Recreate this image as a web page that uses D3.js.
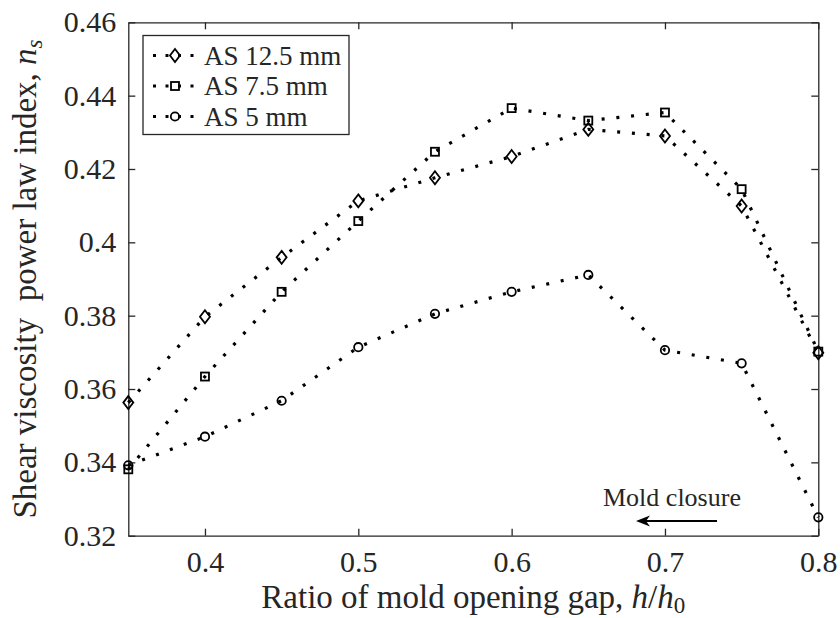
<!DOCTYPE html>
<html>
<head>
<meta charset="utf-8">
<script src="https://cdn.jsdelivr.net/npm/d3@7"></script>
<style>
  html, body { margin: 0; padding: 0; background: #fff; }
  svg { display: block; }
  text { font-family: "Liberation Serif", "Times New Roman", serif; fill: #262626; }
</style>
</head>
<body>
<svg id="chart" width="840" height="618"></svg>
<script>
// Gap ratio h/h0 at which the index was measured
const gapRatio = [0.35, 0.40, 0.45, 0.50, 0.55, 0.60, 0.65, 0.70, 0.75, 0.80];

// Shear viscosity power law index n_s for each AS setting
const as125 = [0.3563, 0.3797, 0.3959, 0.4113, 0.4176, 0.4234, 0.4308, 0.4290, 0.4099, 0.3699];
const as75  = [0.3381, 0.3634, 0.3865, 0.4058, 0.4247, 0.4366, 0.4332, 0.4354, 0.4145, 0.3702];
const as5   = [0.3392, 0.3470, 0.3568, 0.3714, 0.3805, 0.3865, 0.3911, 0.3706, 0.3670, 0.3250];

const seriesNames = ["AS 12.5 mm", "AS 7.5 mm", "AS 5 mm"];
const seriesMarkers = ["diamond", "square", "circle"];

const xTicks = [0.4, 0.5, 0.6, 0.7, 0.8];
const yTicks = [0.32, 0.34, 0.36, 0.38, 0.40, 0.42, 0.44, 0.46];

const series = [as125, as75, as5].map((vals, i) => ({
  name: seriesNames[i],
  marker: seriesMarkers[i],
  points: vals.map((v, j) => ({ x: gapRatio[j], y: v }))
}));

const serif = '"Liberation Serif", "Times New Roman", serif';
const svg = d3.select("#chart");
const margin = { left: 128.3, right: 840 - 818.3, top: 22.3, bottom: 618 - 535.7 };
const W = 840, H = 618;
const innerW = W - margin.left - margin.right;
const innerH = H - margin.top - margin.bottom;

const x = d3.scaleLinear().domain([0.35, 0.8]).range([margin.left, margin.left + innerW]);
const y = d3.scaleLinear().domain([0.32, 0.46]).range([margin.top + innerH, margin.top]);

const axisColor = "#262626";
const tickLen = 7;
const fmt = d => String(+d.toFixed(2));

// Axes with inward ticks on all four sides (boxed frame)
const gx = svg.append("g").attr("transform", `translate(0,${y(0.32)})`)
  .call(d3.axisBottom(x).tickValues(xTicks).tickFormat(fmt).tickSizeInner(-tickLen).tickSizeOuter(0).tickPadding(15));
const gxTop = svg.append("g").attr("transform", `translate(0,${y(0.46)})`)
  .call(d3.axisTop(x).tickValues(xTicks).tickFormat("").tickSizeInner(-tickLen).tickSizeOuter(0));
const gy = svg.append("g").attr("transform", `translate(${x(0.35)},0)`)
  .call(d3.axisLeft(y).tickValues(yTicks).tickFormat(fmt).tickSizeInner(-tickLen).tickSizeOuter(0).tickPadding(12));
const gyRight = svg.append("g").attr("transform", `translate(${x(0.8)},0)`)
  .call(d3.axisRight(y).tickValues(yTicks).tickFormat("").tickSizeInner(-tickLen).tickSizeOuter(0));

[gx, gxTop, gy, gyRight].forEach(g => {
  g.attr("font-family", null).style("font-family", serif);
  g.select(".domain").attr("stroke", axisColor).attr("stroke-width", 1.3);
  g.selectAll(".tick line").attr("stroke", axisColor).attr("stroke-width", 1.3);
  g.selectAll(".tick text").style("font-family", serif).style("font-size", "30px").attr("fill", axisColor);
});
gx.selectAll(".tick text").attr("dy", "0.71em");

// Marker shapes
function drawMarker(g, type, cx, cy) {
  const common = s => s.attr("fill", "none").attr("stroke", "#000").attr("stroke-width", 1.8);
  if (type === "diamond") {
    g.append("path").attr("d", `M${cx},${cy - 6.5}L${cx + 5},${cy}L${cx},${cy + 6.5}L${cx - 5},${cy}Z`).call(common);
  } else if (type === "square") {
    g.append("rect").attr("x", cx - 4).attr("y", cy - 4).attr("width", 8).attr("height", 8).call(common);
  } else {
    g.append("circle").attr("cx", cx).attr("cy", cy).attr("r", 4.2).call(common);
  }
}

const line = d3.line().x(d => x(d.x)).y(d => y(d.y));
const dash = "3 11.8";

const plot = svg.append("g");
series.forEach(s => {
  plot.append("path").datum(s.points).attr("d", line)
    .attr("fill", "none").attr("stroke", "#000").attr("stroke-width", 3.2)
    .attr("stroke-dasharray", dash).attr("stroke-linecap", "butt");
  const mg = plot.append("g");
  s.points.forEach(p => drawMarker(mg, s.marker, x(p.x), y(p.y)));
});

// Legend
const lg = svg.append("g");
lg.append("rect").attr("x", 143).attr("y", 35.5).attr("width", 206).attr("height", 99)
  .attr("fill", "#fff").attr("stroke", axisColor).attr("stroke-width", 1.3);
series.forEach((s, i) => {
  const ly = 55.5 + i * 30.5;
  lg.append("line").attr("x1", 153).attr("x2", 197).attr("y1", ly).attr("y2", ly)
    .attr("stroke", "#000").attr("stroke-width", 3.2).attr("stroke-dasharray", "3 9.5");
  drawMarker(lg, s.marker, 175, ly);
  lg.append("text").attr("x", 204).attr("y", ly).attr("dy", "0.35em")
    .style("font-size", "27px").attr("fill", "#000").text(s.name);
});

// Annotation: direction of mold closure
svg.append("text").attr("x", 603).attr("y", 506).style("font-size", "26px").attr("fill", "#000").text("Mold closure");
svg.append("line").attr("x1", 717).attr("x2", 645).attr("y1", 521).attr("y2", 521)
  .attr("stroke", "#000").attr("stroke-width", 2);
svg.append("path").attr("d", "M636,521L650,515.5L646,521L650,526.5Z").attr("fill", "#000");

// Axis titles
const xt = svg.append("text").attr("x", x(0.575)).attr("y", 608).attr("text-anchor", "middle")
  .style("font-size", "33px").attr("fill", axisColor);
xt.append("tspan").text("Ratio of mold opening gap, ");
xt.append("tspan").attr("font-style", "italic").text("h");
xt.append("tspan").text("/");
xt.append("tspan").attr("font-style", "italic").text("h");
xt.append("tspan").style("font-size", "23px").attr("dy", 5).text("0");

const yt = svg.append("text").attr("transform", `translate(36,${(y(0.32) + y(0.46)) / 2}) rotate(-90)`)
  .attr("text-anchor", "middle").style("font-size", "33px").attr("fill", axisColor);
yt.append("tspan").text("Shear viscosity\u00a0 power law index, ");
yt.append("tspan").attr("font-style", "italic").text("n");
yt.append("tspan").attr("font-style", "italic").style("font-size", "23px").attr("dy", 6).text("s");
</script>
</body>
</html>
